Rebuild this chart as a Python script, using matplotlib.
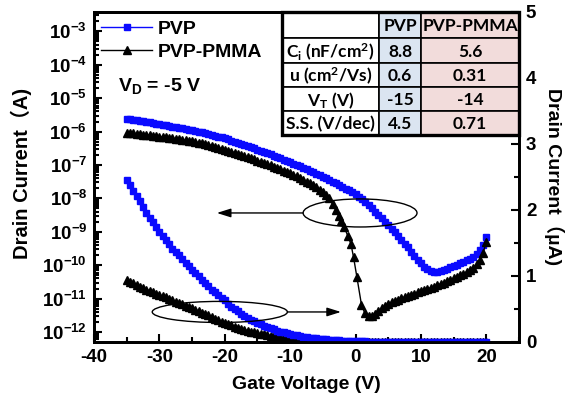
import numpy as np
import matplotlib

matplotlib.use("Agg")
import matplotlib.pyplot as plt
from matplotlib.patches import Ellipse, Rectangle
from matplotlib.ticker import FixedLocator, LogLocator, MultipleLocator, NullFormatter


# gate voltage sweep (V) and log10 of drain current (A)
pvp_vg = np.arange(-35, 20.5, 0.5)
pvp_log_id = [
    -5.61, -5.625, -5.64, -5.655, -5.67, -5.69, -5.71, -5.725, -5.74, -5.76,
    -5.78, -5.795, -5.81, -5.83, -5.85, -5.865, -5.88, -5.90, -5.92, -5.94,
    -5.96, -5.98, -6.00, -6.025, -6.05, -6.075, -6.10, -6.125, -6.15, -6.175,
    -6.20, -6.235, -6.27, -6.30, -6.33, -6.365, -6.40, -6.435, -6.47, -6.505,
    -6.54, -6.575, -6.61, -6.645, -6.68, -6.72, -6.76, -6.80, -6.84, -6.88,
    -6.92, -6.96, -7.00, -7.045, -7.09, -7.135, -7.18, -7.225, -7.27, -7.315,
    -7.36, -7.405, -7.45, -7.50, -7.55, -7.60, -7.65, -7.705, -7.76, -7.82,
    -7.88, -7.95, -8.03, -8.11, -8.20, -8.30, -8.40, -8.50, -8.60, -8.70,
    -8.81, -8.91, -9.02, -9.13, -9.24, -9.355, -9.47, -9.60, -9.72, -9.84,
    -9.95, -10.04, -10.12, -10.165, -10.19, -10.19, -10.17, -10.14, -10.10, -10.065,
    -10.03, -9.99, -9.95, -9.905, -9.86, -9.81, -9.75, -9.67, -9.56, -9.40,
    -9.16,
]

pmma_vg = list(np.arange(-35, -3.5, 0.5)) + [
    -3.5, -3.0, -2.6, -2.2, -1.7, -1.2, -0.7, -0.3, 0.2, 0.9, 1.4, 2.0, 2.5,
    3.0, 3.5,
] + list(np.arange(4, 20.5, 0.5))
pmma_log_id = [
    -6.03, -6.04, -6.05, -6.065, -6.08, -6.09, -6.10, -6.11, -6.12, -6.135,
    -6.15, -6.16, -6.17, -6.185, -6.20, -6.215, -6.23, -6.245, -6.26, -6.275,
    -6.29, -6.31, -6.33, -6.35, -6.37, -6.395, -6.42, -6.45, -6.48, -6.51,
    -6.54, -6.57, -6.60, -6.63, -6.66, -6.695, -6.73, -6.765, -6.80, -6.835,
    -6.87, -6.905, -6.94, -6.975, -7.01, -7.05, -7.09, -7.13, -7.17, -7.21,
    -7.25, -7.295, -7.34, -7.39, -7.44, -7.495, -7.55, -7.61, -7.67, -7.735,
    -7.80, -7.89, -8.00,
    -8.18, -8.36, -8.52, -8.67, -8.87, -9.12, -9.37, -9.77, -10.35, -11.18,
    -11.43, -11.53, -11.52, -11.45, -11.37,
    -11.29, -11.22, -11.16, -11.11, -11.07, -11.03, -10.99, -10.955, -10.92, -10.885,
    -10.85, -10.815, -10.78, -10.745, -10.71, -10.675, -10.64, -10.60, -10.56, -10.52,
    -10.48, -10.435, -10.39, -10.345, -10.30, -10.25, -10.20, -10.14, -10.07, -9.98,
    -9.86, -9.64, -9.30,
]

log_ticks = [1e-12, 1e-11, 1e-10, 1e-9, 1e-8, 1e-7, 1e-6, 1e-5, 1e-4, 1e-3]
x_ticks = [-40, -30, -20, -10, 0, 10, 20]

series_labels = ["PVP", "PVP-PMMA"]
param_names = [r"$C_i$ (nF/cm$^2$)", r"u (cm$^2$/Vs)", r"$V_T$ (V)", "S.S. (V/dec)"]
pvp_params = ["8.8", "0.6", "-15", "4.5"]
pmma_params = ["5.6", "0.31", "-14", "0.71"]

BLUE = "#0a0aff"
CELL_BLUE = "#dbe5f1"
CELL_PINK = "#f2dcdb"

plt.rcParams["font.family"] = ["Liberation Sans", "Noto Sans CJK SC"]
plt.rcParams["font.weight"] = "bold"
plt.rcParams["axes.labelweight"] = "bold"
plt.rcParams["axes.unicode_minus"] = False
plt.rcParams["mathtext.default"] = "regular"

pvp_id = 10.0 ** np.array(pvp_log_id)
pmma_id = 10.0 ** np.array(pmma_log_id)

fig = plt.figure(figsize=(5.65, 4.04), dpi=100)
ax = fig.add_axes([0.1664, 0.1535, 0.7522, 0.8168])
ax2 = ax.twinx()

# log-scale transfer curves (left axis)
line_pvp, = ax.plot(pvp_vg, pvp_id, color=BLUE, marker="s", ms=5.0, mec=BLUE,
                    lw=1, label=series_labels[0])
line_pmma, = ax.plot(pmma_vg, pmma_id, color="black", marker="^", ms=5.6,
                     lw=1, label=series_labels[1])

# linear-scale curves in uA (right axis)
ax2.plot(pmma_vg, pmma_id * 1e6, color="black", marker="^", ms=5.6, lw=1)
ax2.plot(pvp_vg, pvp_id * 1e6, color=BLUE, marker="s", ms=5.0, mec=BLUE, lw=1)

ax.set_yscale("log")
ax.set_ylim(10 ** -12.3, 10 ** -2.42)
ax.set_xlim(-40, 25)
ax.yaxis.set_major_locator(FixedLocator(log_ticks))
ax.yaxis.set_minor_locator(LogLocator(base=10, subs=np.arange(2, 10), numticks=20))
ax.yaxis.set_minor_formatter(NullFormatter())
ax.xaxis.set_major_locator(FixedLocator(x_ticks))
ax.xaxis.set_minor_locator(MultipleLocator(5))

ax2.set_ylim(0, 5)
ax2.yaxis.set_major_locator(FixedLocator([0, 1, 2, 3, 4, 5]))
ax2.yaxis.set_minor_locator(MultipleLocator(0.5))
ax2.tick_params(axis="x", which="both", bottom=False, top=False,
                labelbottom=False, labeltop=False)

for a in (ax, ax2):
    for sp in a.spines.values():
        sp.set_linewidth(2)
ax.tick_params(which="both", direction="in", width=1.5, labelsize=13.5,
               right=False, top=False, pad=5)
ax.tick_params(which="major", length=6)
ax.tick_params(which="minor", length=3.5)
ax2.tick_params(axis="y", which="both", direction="in", width=1.5, labelsize=13.5, pad=5)
ax2.tick_params(axis="y", which="major", length=6)
ax2.tick_params(axis="y", which="minor", length=3.5)

ax.set_xlabel("Gate Voltage (V)", fontsize=14, fontweight="bold", labelpad=7)
ax.set_ylabel("Drain Current\uff08A)", fontsize=14.5, fontweight="bold")
ax.yaxis.set_label_coords(-0.145, 0.51)
ax2.set_ylabel("Drain Current\uff08\u00b5A)", fontsize=14, fontweight="bold",
               rotation=270, va="bottom")
ax2.yaxis.set_label_coords(1.058, 0.5)

ax.legend(handles=[line_pvp, line_pmma], loc="upper left",
          bbox_to_anchor=(0.017, 0.975), frameon=False, fontsize=14,
          handlelength=2.6, handletextpad=0.3, labelspacing=0.3,
          borderpad=0, borderaxespad=0, numpoints=1)
ax.text(0.056, 0.777, r"$V_D$ = -5 V", transform=ax.transAxes, fontsize=14,
        fontweight="bold", va="center", ha="left")

# ellipses with arrows pointing to each axis
ax2.add_patch(Ellipse((0.626, 0.391), 0.268, 0.085, transform=ax2.transAxes,
                      fill=False, lw=1, ec="black", zorder=5))
ax2.annotate("", xy=(0.289, 0.391), xytext=(0.492, 0.391),
             xycoords="axes fraction", textcoords="axes fraction",
             arrowprops=dict(arrowstyle="-|>,head_length=0.7,head_width=0.22",
                             color="black", lw=1, mutation_scale=12,
                             shrinkA=0, shrinkB=0), zorder=5)
ax2.add_patch(Ellipse((0.296, 0.091), 0.318, 0.064, transform=ax2.transAxes,
                      fill=False, lw=1, ec="black", zorder=5))
ax2.annotate("", xy=(0.581, 0.091), xytext=(0.455, 0.091),
             xycoords="axes fraction", textcoords="axes fraction",
             arrowprops=dict(arrowstyle="-|>,head_length=0.7,head_width=0.22",
                             color="black", lw=1, mutation_scale=12,
                             shrinkA=0, shrinkB=0), zorder=5)

# parameter table in the upper right corner
col_edges = [0.4424, 0.6706, 0.7694, 1.0]
row_edges = [1.0, 0.921, 0.845, 0.773, 0.700, 0.627]
col_fills = ["white", CELL_BLUE, CELL_PINK]
header = [""] + series_labels
cells = [header] + [[n, p, q] for n, p, q in zip(param_names, pvp_params, pmma_params)]
for r, row in enumerate(cells):
    y0, y1 = row_edges[r + 1], row_edges[r]
    for c, txt in enumerate(row):
        x0, x1 = col_edges[c], col_edges[c + 1]
        ax2.add_patch(Rectangle((x0, y0), x1 - x0, y1 - y0, transform=ax2.transAxes,
                                fc=col_fills[c], ec="black", lw=1.2, zorder=10,
                                clip_on=False))
        if txt:
            ax2.text((x0 + x1) / 2, (y0 + y1) / 2 - 0.004, txt,
                     transform=ax2.transAxes, ha="center", va="center",
                     fontsize=12.5, family="Lato", fontweight="bold", zorder=11)
ax2.add_patch(Rectangle((col_edges[0], row_edges[-1]), col_edges[-1] - col_edges[0],
                        row_edges[0] - row_edges[-1], transform=ax2.transAxes,
                        fill=False, ec="black", lw=2.4, zorder=12, clip_on=False))

# make sure the visible tick labels come out bold
fig.canvas.draw()
for lbl in ax.get_xticklabels() + ax.get_yticklabels() + ax2.get_yticklabels():
    lbl.set_fontweight("bold")

fig.savefig("out.png", dpi=100)
